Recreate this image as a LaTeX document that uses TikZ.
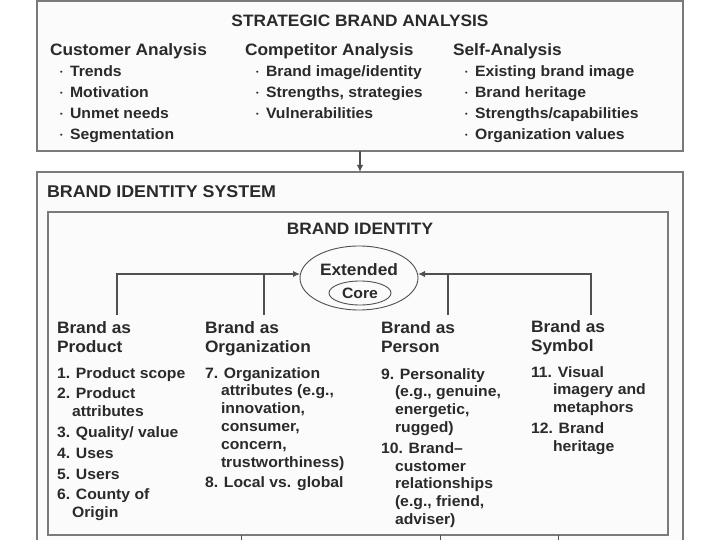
\documentclass[tikz,border=0pt]{standalone}
\usepackage{fontspec}
\setmainfont{Liberation Sans}[FakeStretch=1.05]
\usetikzlibrary{arrows.meta,shapes.geometric}
\definecolor{boxline}{HTML}{7A7A7A}
\definecolor{boxfill}{HTML}{FBFBFB}
\definecolor{ink}{HTML}{2A2A2A}
\definecolor{connc}{HTML}{505050}
\newcommand\bul{\raisebox{2.2pt}{\fontsize{7}{7}\selectfont\textbullet}\hspace{7.5pt}}
\newcommand\lines[1]{\begin{tabular}[t]{@{}l@{}}#1\end{tabular}}
\begin{document}
\begin{tikzpicture}[x=1pt,y=-1pt,
  every node/.style={inner sep=0pt,outer sep=0pt,text=ink},
  bigbox/.style={draw=boxline,line width=2pt,fill=boxfill,anchor=north west},
  innerbox/.style={draw=boxline,line width=1.5pt,fill=boxfill,anchor=north west},
  ttl/.style={font=\bfseries\fontsize{16.5}{19}\selectfont},
  hdr/.style={anchor=base west,font=\bfseries\fontsize{16.5}{19}\selectfont},
  bitem/.style={anchor=base west,font=\bfseries\fontsize{15}{21}\selectfont},
  litem/.style={anchor=base west,font=\bfseries\fontsize{15}{17.8}\selectfont},
  conn/.style={draw=connc,line width=1.4pt},
  tip/.style={-{Latex[length=7pt,width=6.5pt]}},
  oval/.style={draw=connc,line width=0.9pt,ellipse}]
\clip (0,0) rectangle (720,540);
\fill[white] (0,0) rectangle (720,540);
% boxes
\node[bigbox,minimum width=646pt,minimum height=150pt] (sab) at (37,1) {};
\node[bigbox,minimum width=646pt,minimum height=428pt] (bis) at (37,172) {};
\node[innerbox,minimum width=620pt,minimum height=323pt] (bid) at (48,212) {};
\draw[conn,tip] (sab.south) -- (bis.north);
% strategic brand analysis
\node[ttl,anchor=base] (t1) at (360,27) {STRATEGIC BRAND ANALYSIS};
\node[hdr] (h1) at (50,56) {Customer Analysis};
\node[hdr] (h2) at (245,56) {Competitor Analysis};
\node[hdr] (h3) at (453,56) {Self-Analysis};
\node[bitem] (b1) at (60,77) {\lines{\bul Trends\\\bul Motivation\\\bul Unmet needs\\\bul Segmentation}};
\node[bitem] (b2) at (256,77) {\lines{\bul Brand image/identity\\\bul Strengths, strategies\\\bul Vulnerabilities}};
\node[bitem] (b3) at (465,77) {\lines{\bul Existing brand image\\\bul Brand heritage\\\bul Strengths/capabilities\\\bul Organization values}};
% brand identity system
\node[hdr,font=\bfseries\fontsize{17}{19}\selectfont] (t2) at (47,198) {BRAND IDENTITY SYSTEM};
\node[ttl,anchor=base] (t3) at (360,235) {BRAND IDENTITY};
\node[oval,minimum width=118pt,minimum height=64pt] (ext) at (359,278) {};
\node[font=\bfseries\fontsize{16.5}{19}\selectfont] (extl) at (359,270) {Extended};
\node[oval,minimum width=62pt,minimum height=24pt,font=\bfseries\fontsize{15}{17}\selectfont] (core) at (360,293) {Core};
% connectors
\coordinate (a1) at (117,274); \coordinate (a1b) at (117,315);
\coordinate (a2) at (264,274); \coordinate (a2b) at (264,315);
\coordinate (a3) at (448,274); \coordinate (a3b) at (448,315);
\coordinate (a4) at (591,274); \coordinate (a4b) at (591,315);
\draw[conn,tip] (a1b) -- (a1) -- (a1 -| ext.west);
\draw[conn] (a2) -- (a2b);
\draw[conn,tip] (a4b) -- (a4) -- (a4 -| ext.east);
\draw[conn] (a3) -- (a3b);
\coordinate (s1) at (241,548); \coordinate (s2) at (440,548); \coordinate (s3) at (558,548);
\draw[conn,line width=1pt] (bid.south -| s1) -- (s1);
\draw[conn,line width=1pt] (bid.south -| s2) -- (s2);
\draw[conn,line width=1pt] (bid.south -| s3) -- (s3);
% columns
\node[hdr] (c1) at (57,333) {\lines{Brand as\\Product}};
\node[hdr] (c2) at (205,333) {\lines{Brand as\\Organization}};
\node[hdr] (c3) at (381,333) {\lines{Brand as\\Person}};
\node[hdr] (c4) at (531,332) {\lines{Brand as\\Symbol}};
\node[litem] (i1) at (57,378) {\lines{1. Product scope\\[3pt]
2. Product\\
\hspace*{15pt}attributes\\[3pt]
3. Quality/ value\\[3pt]
4. Uses\\[3pt]
5. Users\\[3pt]
6. County of\\
\hspace*{15pt}Origin}};
\node[litem] (i2) at (205,378) {\lines{7. Organization\\
\hspace*{16pt}attributes (e.g.,\\
\hspace*{16pt}innovation,\\
\hspace*{16pt}consumer,\\
\hspace*{16pt}concern,\\
\hspace*{16pt}trustworthiness)\\[3pt]
8. Local vs. global}};
\node[litem] (i3) at (381,379) {\lines{9. Personality\\
\hspace*{14pt}(e.g., genuine,\\
\hspace*{14pt}energetic,\\
\hspace*{14pt}rugged)\\[3pt]
10. Brand–\\
\hspace*{14pt}customer\\
\hspace*{14pt}relationships\\
\hspace*{14pt}(e.g., friend,\\
\hspace*{14pt}adviser)}};
\node[litem] (i4) at (531,377) {\lines{11. Visual\\
\hspace*{22pt}imagery and\\
\hspace*{22pt}metaphors\\[3pt]
12. Brand\\
\hspace*{22pt}heritage}};
\end{tikzpicture}
\end{document}
